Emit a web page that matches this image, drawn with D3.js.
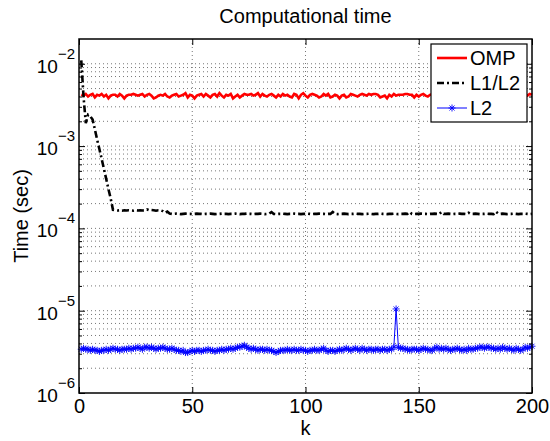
<!DOCTYPE html>
<html>
<head>
<meta charset="utf-8">
<script src="https://cdn.jsdelivr.net/npm/d3@7"></script>
<style>
  body { margin: 0; background: #fff; }
  svg text { font-family: "Liberation Sans", Arial, Helvetica, sans-serif; fill: #000; }
</style>
</head>
<body>
<div id="chart"></div>
<script>
// k = 1..200
const omp = [ // x 1e-3 sec
  4.2,4.1,4.3,4.0,4.2,4.3,3.9,4.2,4.1,4.3,4.0,4.2,3.8,4.1,4.2,4.2,4.0,4.3,4.1,3.8,
  4.1,4.2,4.2,4.3,4.2,4.1,4.2,4.3,4.0,4.2,4.3,4.1,3.8,3.9,4.1,4.2,4.1,4.3,4.0,3.9,
  4.1,4.2,4.3,4.0,4.1,4.2,4.4,3.9,4.2,4.1,3.8,4.1,4.2,4.3,4.0,4.3,4.1,3.9,4.2,4.3,
  4.0,4.4,4.1,3.9,4.2,4.1,4.3,3.8,4.0,4.2,3.9,4.1,4.3,4.2,4.2,4.3,4.1,4.2,4.4,4.0,
  4.3,4.1,4.0,4.2,4.3,4.1,3.9,4.2,4.0,4.3,4.1,4.2,4.0,3.9,4.3,4.2,3.8,4.2,4.4,4.1,
  3.9,4.2,4.3,4.2,4.1,3.9,4.0,4.3,4.1,4.3,3.9,4.0,4.2,4.1,3.8,4.1,4.2,3.9,4.0,4.3,
  4.2,4.1,4.0,4.2,4.3,4.2,4.1,4.3,4.2,4.3,4.3,4.2,3.9,4.0,4.1,3.8,4.2,4.0,4.3,4.1,
  4.2,4.2,4.2,4.3,4.3,4.2,4.2,3.9,4.2,4.0,4.2,4.3,4.1,4.0,4.2,4.3,4.4,4.1,4.2,3.9,
  4.2,4.3,4.4,4.1,4.2,3.9,4.3,4.1,4.2,4.0,4.3,4.2,4.2,4.3,4.3,4.2,4.3,3.9,4.1,4.0,
  4.2,4.3,4.1,4.2,4.0,4.3,4.2,4.3,4.1,4.0,4.2,4.3,4.1,4.2,4.0,4.3,4.2,4.1,4.3,4.2
];
const l1l2 = [ // x 1e-4 sec
  110,40,19,24,23,21,16,12,9.2,7.0,5.3,4.0,3.0,2.3,1.68,1.66,1.65,1.66,1.64,1.66,
  1.65,1.66,1.65,1.64,1.66,1.65,1.66,1.65,1.66,1.70,1.66,1.67,1.66,1.64,1.66,1.66,1.62,1.55,1.60,1.52,
  1.50,1.50,1.51,1.50,1.49,1.50,1.51,1.50,1.50,1.49,1.50,1.51,1.50,1.50,1.49,1.50,1.50,1.51,1.50,1.49,
  1.50,1.50,1.51,1.50,1.50,1.49,1.50,1.50,1.51,1.50,1.49,1.50,1.50,1.51,1.50,1.50,1.49,1.50,1.50,1.51,
  1.50,1.49,1.50,1.51,1.58,1.50,1.49,1.50,1.50,1.51,1.50,1.49,1.50,1.50,1.51,1.50,1.50,1.49,1.50,1.50,
  1.51,1.50,1.49,1.50,1.50,1.51,1.50,1.50,1.49,1.50,1.50,1.58,1.50,1.49,1.50,1.50,1.51,1.50,1.49,1.50,
  1.50,1.51,1.50,1.50,1.49,1.50,1.50,1.51,1.50,1.49,1.50,1.50,1.51,1.50,1.50,1.49,1.50,1.50,1.51,1.50,
  1.49,1.50,1.50,1.51,1.50,1.58,1.50,1.49,1.50,1.50,1.51,1.50,1.50,1.49,1.50,1.50,1.51,1.50,1.49,1.58,
  1.50,1.50,1.51,1.50,1.49,1.50,1.50,1.51,1.50,1.50,1.49,1.55,1.50,1.50,1.51,1.50,1.49,1.50,1.50,1.51,
  1.50,1.50,1.49,1.60,1.52,1.50,1.51,1.50,1.49,1.50,1.50,1.51,1.50,1.49,1.50,1.50,1.51,1.50,1.49,1.50
];
const l2 = [ // x 1e-6 sec
  3.4,3.5,3.4,3.4,3.3,3.4,3.3,3.3,3.2,3.3,3.3,3.4,3.3,3.4,3.5,3.4,3.4,3.3,3.4,3.4,
  3.4,3.5,3.4,3.5,3.5,3.6,3.5,3.4,3.6,3.6,3.5,3.6,3.5,3.4,3.5,3.5,3.6,3.5,3.4,3.4,
  3.5,3.4,3.3,3.3,3.2,3.3,3.1,3.1,3.2,3.3,3.2,3.3,3.3,3.2,3.3,3.3,3.4,3.3,3.3,3.2,
  3.3,3.3,3.4,3.3,3.4,3.4,3.5,3.4,3.5,3.6,3.6,3.7,3.8,3.6,3.5,3.4,3.5,3.4,3.3,3.4,
  3.4,3.3,3.4,3.3,3.3,3.2,3.1,3.2,3.3,3.3,3.3,3.4,3.3,3.3,3.4,3.3,3.3,3.4,3.3,3.3,
  3.2,3.3,3.3,3.4,3.3,3.3,3.4,3.5,3.3,3.2,3.3,3.3,3.2,3.3,3.4,3.3,3.4,3.5,3.4,3.3,
  3.4,3.5,3.4,3.3,3.5,3.4,3.3,3.4,3.4,3.3,3.4,3.4,3.3,3.4,3.4,3.3,3.4,3.4,3.6,10.5,
  3.6,3.5,3.5,3.4,3.4,3.3,3.4,3.4,3.4,3.3,3.4,3.5,3.4,3.4,3.3,3.3,3.5,3.6,3.4,3.5,
  3.4,3.5,3.4,3.3,3.4,3.4,3.5,3.4,3.3,3.4,3.3,3.5,3.4,3.4,3.5,3.5,3.6,3.6,3.5,3.6,
  3.6,3.5,3.5,3.4,3.5,3.4,3.6,3.5,3.4,3.5,3.4,3.3,3.5,3.4,3.3,3.4,3.6,3.5,3.6,3.7
];
const xTicks = [0, 50, 100, 150, 200];
const yDecades = [1e-6, 1e-5, 1e-4, 1e-3, 1e-2];
const yExponents = ['-6', '-5', '-4', '-3', '-2'];
const seriesNames = ['OMP', 'L1/L2', 'L2'];

const W = 550, H = 441;
const plot = {left: 79, top: 39, right: 532, bottom: 393};

const svg = d3.select('#chart').append('svg')
  .attr('width', W)
  .attr('height', H);

const x = d3.scaleLinear().domain([0, 200]).range([plot.left, plot.right]);
const y = d3.scaleLog().domain([1e-6, 2e-2]).range([plot.bottom, plot.top]);

// minor ticks 2..9 for each decade
const yMinor = [];
yDecades.forEach(function (d) {
  for (let m = 2; m <= 9; m++) {
    if (d * m < 2e-2) yMinor.push(d * m);
  }
});

// grid
const grid = svg.append('g').attr('class', 'grid');
grid.selectAll('line.gx')
  .data(xTicks.slice(1, -1))
  .enter().append('line')
  .attr('x1', d => x(d)).attr('x2', d => x(d))
  .attr('y1', plot.top).attr('y2', plot.bottom)
  .attr('stroke', '#777').attr('stroke-dasharray', '1,3');
grid.selectAll('line.gy')
  .data(yMinor.concat(yDecades.slice(1)))
  .enter().append('line')
  .attr('x1', plot.left).attr('x2', plot.right)
  .attr('y1', d => y(d)).attr('y2', d => y(d))
  .attr('stroke', '#777').attr('stroke-dasharray', '1,3');

const ks = d3.range(1, 201);
const line = d3.line().x(d => x(d[0])).y(d => y(d[1]));

const ompPts = ks.map((k, i) => [k, omp[i] * 1e-3]);
const l1l2Pts = ks.map((k, i) => [k, l1l2[i] * 1e-4]);
const l2Pts = ks.map((k, i) => [k, l2[i] * 1e-6]);

const star = 'M-3.5,0H3.5M0,-3.5V3.5M-2.5,-2.5L2.5,2.5M-2.5,2.5L2.5,-2.5';

svg.append('path').datum(ompPts)
  .attr('d', line)
  .attr('fill', 'none').attr('stroke', '#ff0000').attr('stroke-width', 2.6);

svg.append('path').datum(l1l2Pts)
  .attr('d', line)
  .attr('fill', 'none').attr('stroke', '#000').attr('stroke-width', 2.6)
  .attr('stroke-dasharray', '7,3,2,3');

svg.append('path').datum(l2Pts)
  .attr('d', line)
  .attr('fill', 'none').attr('stroke', '#0000ff').attr('stroke-width', 1);
svg.append('g').selectAll('path')
  .data(l2Pts)
  .enter().append('path')
  .attr('transform', d => 'translate(' + x(d[0]) + ',' + y(d[1]) + ')')
  .attr('d', star)
  .attr('fill', 'none').attr('stroke', '#0000ff').attr('stroke-width', 0.9);

// axes, ticks inside on all four sides
function clean(g) {
  g.select('.domain').remove();
  g.selectAll('line').attr('stroke', '#000');
}
svg.append('g')
  .attr('transform', 'translate(0,' + plot.bottom + ')')
  .call(d3.axisBottom(x).tickValues(xTicks).tickSizeInner(-6).tickSizeOuter(0).tickPadding(6))
  .call(clean)
  .selectAll('text').attr('font-size', 20).style('font-family', '"Liberation Sans", Arial, sans-serif');
svg.append('g')
  .attr('transform', 'translate(0,' + plot.top + ')')
  .call(d3.axisTop(x).tickValues(xTicks).tickSizeInner(-6).tickSizeOuter(0).tickFormat(''))
  .call(clean);
svg.append('g')
  .attr('transform', 'translate(' + plot.left + ',0)')
  .call(d3.axisLeft(y).tickValues(yDecades).tickSizeInner(-6).tickSizeOuter(0).tickFormat(''))
  .call(clean);
svg.append('g')
  .attr('transform', 'translate(' + plot.left + ',0)')
  .call(d3.axisLeft(y).tickValues(yMinor).tickSizeInner(-3).tickSizeOuter(0).tickFormat(''))
  .call(clean);
svg.append('g')
  .attr('transform', 'translate(' + plot.right + ',0)')
  .call(d3.axisRight(y).tickValues(yDecades).tickSizeInner(-6).tickSizeOuter(0).tickFormat(''))
  .call(clean);
svg.append('g')
  .attr('transform', 'translate(' + plot.right + ',0)')
  .call(d3.axisRight(y).tickValues(yMinor).tickSizeInner(-3).tickSizeOuter(0).tickFormat(''))
  .call(clean);

svg.append('rect')
  .attr('x', plot.left).attr('y', plot.top)
  .attr('width', plot.right - plot.left).attr('height', plot.bottom - plot.top)
  .attr('fill', 'none').attr('stroke', '#000').attr('stroke-width', 1.5);

// y tick labels 10^n
const yLab = svg.append('g').selectAll('text')
  .data(yDecades)
  .enter().append('text')
  .attr('x', plot.left - 4)
  .attr('y', d => y(d) + 9)
  .attr('text-anchor', 'end');
yLab.append('tspan').attr('font-size', 19).text('10');
yLab.append('tspan').attr('font-size', 15).attr('dy', -14)
  .text((d, i) => yExponents[i].replace('-', '\u2212'));

// titles
svg.append('text')
  .attr('x', (plot.left + plot.right) / 2).attr('y', 23)
  .attr('text-anchor', 'middle').attr('font-size', 20)
  .text('Computational time');
svg.append('text')
  .attr('x', (plot.left + plot.right) / 2).attr('y', 435)
  .attr('text-anchor', 'middle').attr('font-size', 20)
  .text('k');
svg.append('text')
  .attr('transform', 'translate(28,' + (plot.top + plot.bottom) / 2 + ') rotate(-90)')
  .attr('text-anchor', 'middle').attr('font-size', 20)
  .text('Time (sec)');

// legend
const legend = svg.append('g').attr('transform', 'translate(431,44)');
legend.append('rect')
  .attr('width', 96).attr('height', 78)
  .attr('fill', '#fff').attr('stroke', '#000').attr('stroke-width', 1.2);
const legStyles = [
  {stroke: '#ff0000', width: 2.6, dash: null},
  {stroke: '#000', width: 2.6, dash: '7,3,2,3'},
  {stroke: '#0000ff', width: 1, dash: null}
];
const rowY = d3.scalePoint().domain(seriesNames).range([14, 64]);
seriesNames.forEach(function (name, i) {
  const st = legStyles[i];
  legend.append('line')
    .attr('x1', 6).attr('x2', 36)
    .attr('y1', rowY(name)).attr('y2', rowY(name))
    .attr('stroke', st.stroke).attr('stroke-width', st.width)
    .attr('stroke-dasharray', st.dash);
  if (name === 'L2') {
    legend.append('path')
      .attr('transform', 'translate(21,' + rowY(name) + ')')
      .attr('d', star)
      .attr('fill', 'none').attr('stroke', '#0000ff').attr('stroke-width', 0.9);
  }
  legend.append('text')
    .attr('x', 39).attr('y', rowY(name) + 7)
    .attr('font-size', 20)
    .text(name);
});
</script>
</body>
</html>
